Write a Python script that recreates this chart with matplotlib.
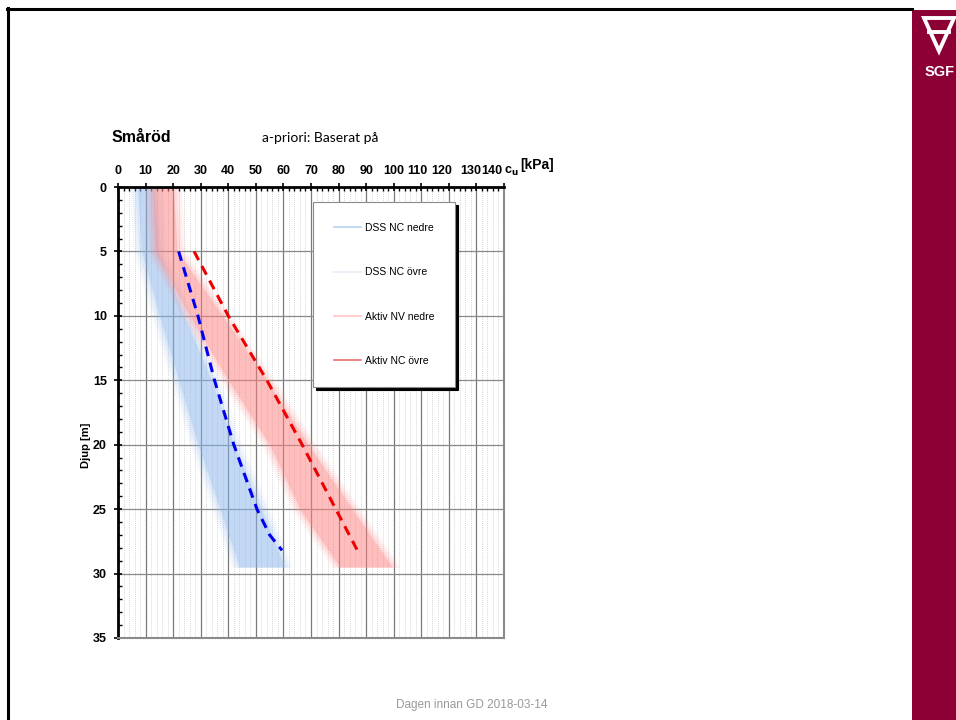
import numpy as np
import matplotlib
matplotlib.use("Agg")
import matplotlib.pyplot as plt
from matplotlib.lines import Line2D
from matplotlib.patches import Rectangle, Polygon
from matplotlib.ticker import MultipleLocator
from matplotlib.transforms import offset_copy

# band edges (kPa) at depths (m)
depth_band = [0, 5, 10, 15, 20, 25, 29.5]
dss_nedre = [7, 8.5, 15, 22, 29, 37, 44]
dss_ovre = [13, 14.5, 24, 34, 42, 52, 60.5]
aktiv_nedre = [12.5, 13.5, 26, 40, 55, 66, 80.5]
aktiv_ovre = [20, 21.5, 38, 54, 69, 85, 99.5]

# dashed profiles
depth_dss = [5, 10, 15, 20, 25, 27, 28.2]
cu_dss = [22, 29, 35, 42, 50.4, 55, 59.5]
depth_akt = [5, 10, 15, 20, 25, 28.6]
cu_akt = [27.6, 40, 54, 66.8, 79, 87.8]

xticks = list(range(0, 150, 10))
xtick_shift = [0] * 11 + [-4, -7, -6, -12]   # px, crowded labels at the right end

legend_labels = ["DSS NC nedre", "DSS NC övre", "Aktiv NV nedre", "Aktiv NC övre"]
legend_colors = ["#b7d2f0", "#e9ecf3", "#ffc4c4", "#e87272"]

W, H = 956, 720
fig = plt.figure(figsize=(W / 100, H / 100), dpi=100)

def fx(px):
    return px / W

def fy(py):
    return 1 - py / H

ax = fig.add_axes([fx(118), fy(638), fx(504) - fx(118), fy(187) - fy(638)])
ax.set_xlim(0, 140)
ax.set_ylim(35, 0)

# grid
ax.xaxis.set_major_locator(MultipleLocator(10))
ax.xaxis.set_minor_locator(MultipleLocator(2))
ax.yaxis.set_major_locator(MultipleLocator(5))
ax.yaxis.set_minor_locator(MultipleLocator(1))
ax.grid(which="minor", axis="x", color="#c9c9c9", lw=0.6, ls=(0, (1, 1.5)))
ax.grid(which="major", axis="x", color="#7a7a7a", lw=0.9)
ax.grid(which="major", axis="y", color="#8a8a8a", lw=0.9)
ax.set_axisbelow(True)

def band(lo, hi, color):
    lo = np.array(lo)
    hi = np.array(hi)
    for pad, a in [(3.0, 0.08), (2.0, 0.10), (1.0, 0.15), (0, 0.33)]:
        ax.fill_betweenx(depth_band, lo - pad, hi + pad, color=color, alpha=a, lw=0, zorder=2)

band(dss_nedre, dss_ovre, "#8db8ec")
band(aktiv_nedre, aktiv_ovre, "#ff8585")

ax.plot(cu_dss, depth_dss, color="#0000ee", lw=2.2, ls=(0, (3.2, 2.2)), zorder=3)
ax.plot(cu_akt, depth_akt, color="#ee0000", lw=2.2, ls=(0, (3.2, 2.2)), zorder=3)

# axes styling
ax.xaxis.tick_top()
for s in ["top", "left"]:
    ax.spines[s].set_linewidth(2)
    ax.spines[s].set_color("black")
for s in ["bottom", "right"]:
    ax.spines[s].set_linewidth(1.5)
    ax.spines[s].set_color("#8a8a8a")
ax.tick_params(which="major", direction="inout", length=6, width=1.2, colors="black")
ax.tick_params(which="minor", direction="in", length=3, width=1, colors="black")
ax.tick_params(axis="x", which="both", top=True, bottom=False, labeltop=False, labelbottom=False)
ax.tick_params(axis="y", which="both", left=True, right=False, labelsize=9, pad=5)
for lab in ax.get_yticklabels():
    lab.set_fontweight("bold")
    lab.set_family("Liberation Sans")

xtrans = ax.get_xaxis_transform()
for v, dx in zip(xticks, xtick_shift):
    ax.text(v, 1, str(v), transform=offset_copy(xtrans, fig=fig, x=dx, y=16, units="dots"),
            fontsize=9, fontweight="bold", family="Liberation Sans",
            ha="center", va="center", clip_on=False)

handles = [Line2D([], [], color=c, lw=1.2) for c in legend_colors]
leg = ax.legend(handles, legend_labels, loc="upper left",
                bbox_to_anchor=(fx(313), fy(202)), bbox_transform=fig.transFigure,
                prop={"family": "Liberation Sans", "size": 7.5}, labelspacing=3.3,
                borderpad=2.0, handlelength=2.6, handletextpad=0.4, borderaxespad=0,
                fancybox=False, framealpha=1, shadow={"color": "black", "alpha": 1})
leg.get_frame().set_edgecolor("#8a8a8a")
leg.get_frame().set_linewidth(0.8)

# texts
fig.text(fx(112), fy(138), "Småröd", fontsize=11.5, fontweight="bold",
         family="Liberation Sans", va="center", ha="left")
fig.text(fx(262), fy(138), "a-priori: Baserat på", fontsize=10, family="Lato",
         va="center", ha="left")
fig.text(fx(504), fy(171), r"c$_\mathbf{u}$", fontsize=9, fontweight="bold",
         family="Liberation Sans", va="center", ha="left")
fig.text(fx(520), fy(165), "[kPa]", fontsize=10, fontweight="bold",
         family="Liberation Sans", va="center", ha="left")
fig.text(fx(86), fy(445), "Djup [m]", fontsize=8, fontweight="bold",
         family="Liberation Sans", rotation=90, va="center", ha="center")
fig.text(fx(472), fy(705), "Dagen innan GD 2018-03-14", fontsize=8.5, color="#999999",
         family="Liberation Sans", va="center", ha="center")

# slide frame and side bar
fig.add_artist(Line2D([fx(7), fx(912)], [fy(9), fy(9)], color="black", lw=2.2))
fig.add_artist(Line2D([fx(8), fx(8)], [fy(8), fy(720)], color="black", lw=2.2))
fig.add_artist(Rectangle((fx(912), 0), fx(956) - fx(912), fy(10), color="#8c0036", lw=0))
tri = Polygon([(fx(924), fy(18)), (fx(954), fy(18)), (fx(939), fy(51))], closed=True,
              fill=False, edgecolor="white", lw=2.8, joinstyle="miter")
fig.add_artist(tri)
fig.add_artist(Line2D([fx(929), fx(949)], [fy(32), fy(32)], color="white", lw=2.8))
fig.text(fx(925), fy(72), "SGF", fontsize=10.5, fontweight="bold", color="white",
         family="Liberation Sans", va="center", ha="left")

fig.savefig("out.png", dpi=100)
